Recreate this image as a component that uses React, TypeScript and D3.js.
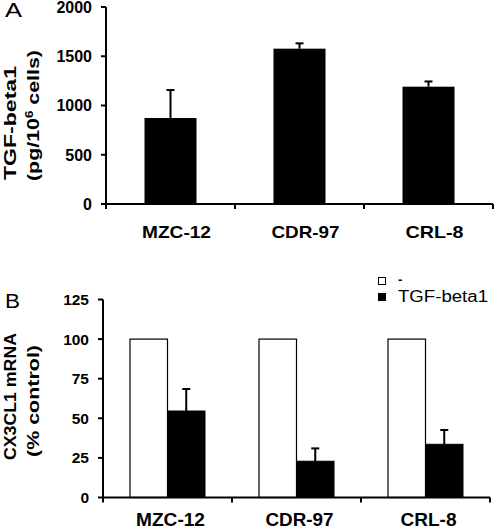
import React from "react";
import * as d3 from "d3";

const categories = ["MZC-12", "CDR-97", "CRL-8"];
const tgfValues = [873, 1577, 1191];
const tgfErrors = [284, 54, 53];
const controlValues = [100, 100, 100];
const treatedValues = [54.6, 22.9, 33.6];
const treatedErrors = [13.9, 8.1, 9.0];
const yTicksA = [0, 500, 1000, 1500, 2000];
const yTicksB = [0, 25, 50, 75, 100, 125];
const seriesB = ["-", "TGF-beta1"];
const labelLenA = [69, 68, 58];
const labelLenB = [69, 68, 56];

const FONT = "'Liberation Sans', Arial, Helvetica, sans-serif";

export default function App() {
  const xA = d3.scaleBand<string>().domain(categories).range([106, 493]).padding(0);
  const yA = d3.scaleLinear().domain([0, 2000]).range([204, 7]);
  const barWA = 52;

  const xB = d3.scaleBand<string>().domain(categories).range([103, 490]).padding(0);
  const yB = d3.scaleLinear().domain([0, 125]).range([497.5, 299.5]);
  const pairW = 75;
  const sub = d3.scaleBand<string>().domain(seriesB).range([0, pairW]).padding(0);

  const capW = 8;

  const yLabel = (x: number, y: number, text: string, len: number, size = 16) => (
    <text
      transform={`translate(${x},${y}) rotate(-90)`}
      fontFamily={FONT}
      fontWeight="bold"
      fontSize={size}
      textLength={len}
      lengthAdjust="spacingAndGlyphs"
    >
      {text}
    </text>
  );

  return (
    <svg width={500} height={529} style={{ position: "absolute", left: 0, top: 0 }}>
      <rect width={500} height={529} fill="#fff" />
      <text x={5} y={17} fontFamily={FONT} fontSize={20} textLength={17} lengthAdjust="spacingAndGlyphs">A</text>
      <text x={5} y={308} fontFamily={FONT} fontSize={20} textLength={15} lengthAdjust="spacingAndGlyphs">B</text>

      {/* ===== Panel A ===== */}
      {yLabel(16, 180, "TGF-beta1", 114)}
      <text
        transform={`translate(39,181) rotate(-90)`}
        fontFamily={FONT}
        fontWeight="bold"
        fontSize={16}
        textLength={131}
        lengthAdjust="spacingAndGlyphs"
      >
        (pg/10<tspan dy={-6} fontSize={10}>6</tspan><tspan dy={6}> cells)</tspan>
      </text>

      {categories.map((c, i) => {
        const cx = xA(c)! + xA.bandwidth() / 2;
        return (
          <g key={c}>
            <rect x={cx - barWA / 2} y={yA(tgfValues[i])} width={barWA} height={yA(0) - yA(tgfValues[i])} fill="#000" />
            <line x1={cx} x2={cx} y1={yA(tgfValues[i])} y2={yA(tgfValues[i] + tgfErrors[i])} stroke="#000" strokeWidth={2} />
            <line x1={cx - capW / 2} x2={cx + capW / 2} y1={yA(tgfValues[i] + tgfErrors[i])} y2={yA(tgfValues[i] + tgfErrors[i])} stroke="#000" strokeWidth={2} />
          </g>
        );
      })}
      <line x1={106} x2={106} y1={yA(2000)} y2={yA(0) + 5} stroke="#000" strokeWidth={2} />
      <line x1={106} x2={493} y1={yA(0)} y2={yA(0)} stroke="#000" strokeWidth={2} />
      {yTicksA.map((t) => (
        <g key={t}>
          <line x1={101} x2={106} y1={yA(t)} y2={yA(t)} stroke="#000" strokeWidth={2} />
          <text x={92} y={yA(t)} dy="0.36em" textAnchor="end" fontFamily={FONT} fontWeight="bold" fontSize={16}>
            {t}
          </text>
        </g>
      ))}
      {categories.map((c) => (
        <line key={c} x1={xA(c)! + xA.bandwidth()} x2={xA(c)! + xA.bandwidth()} y1={yA(0)} y2={yA(0) + 5} stroke="#000" strokeWidth={2} />
      ))}
      {categories.map((c, i) => (
        <text
          key={c}
          x={xA(c)! + xA.bandwidth() / 2 + 6}
          y={238}
          textAnchor="middle"
          fontFamily={FONT}
          fontWeight="bold"
          fontSize={17}
          textLength={labelLenA[i]}
          lengthAdjust="spacingAndGlyphs"
        >
          {c}
        </text>
      ))}

      {/* ===== Panel B ===== */}
      {yLabel(16, 460, "CX3CL1 mRNA", 127)}
      {yLabel(39, 457, "(% control)", 112)}

      {categories.map((c, i) => {
        const x0 = xB(c)! + xB.bandwidth() / 2 - pairW / 2;
        const bw = sub.bandwidth();
        const xc = x0 + sub("-")!;
        const xt = x0 + sub("TGF-beta1")!;
        const ecx = xt + bw / 2;
        return (
          <g key={c}>
            <rect x={xc} y={yB(controlValues[i])} width={bw} height={yB(0) - yB(controlValues[i])} fill="#fff" stroke="#000" strokeWidth={1.2} />
            <rect x={xt} y={yB(treatedValues[i])} width={bw} height={yB(0) - yB(treatedValues[i])} fill="#000" stroke="#000" strokeWidth={1} />
            <line x1={ecx} x2={ecx} y1={yB(treatedValues[i])} y2={yB(treatedValues[i] + treatedErrors[i])} stroke="#000" strokeWidth={2} />
            <line x1={ecx - capW / 2} x2={ecx + capW / 2} y1={yB(treatedValues[i] + treatedErrors[i])} y2={yB(treatedValues[i] + treatedErrors[i])} stroke="#000" strokeWidth={2} />
          </g>
        );
      })}
      <line x1={103} x2={103} y1={yB(125)} y2={yB(0) + 5} stroke="#000" strokeWidth={2} />
      <line x1={103} x2={490} y1={yB(0)} y2={yB(0)} stroke="#000" strokeWidth={2} />
      {yTicksB.map((t) => (
        <g key={t}>
          <line x1={98} x2={103} y1={yB(t)} y2={yB(t)} stroke="#000" strokeWidth={2} />
          <text x={89} y={yB(t)} dy="0.36em" textAnchor="end" fontFamily={FONT} fontWeight="bold" fontSize={15.5}>
            {t}
          </text>
        </g>
      ))}
      {categories.map((c) => (
        <line key={c} x1={xB(c)! + xB.bandwidth()} x2={xB(c)! + xB.bandwidth()} y1={yB(0)} y2={yB(0) + 5} stroke="#000" strokeWidth={2} />
      ))}
      {categories.map((c, i) => (
        <text
          key={c}
          x={xB(c)! + xB.bandwidth() / 2 + 3}
          y={526}
          textAnchor="middle"
          fontFamily={FONT}
          fontWeight="bold"
          fontSize={18}
          textLength={labelLenB[i]}
          lengthAdjust="spacingAndGlyphs"
        >
          {c}
        </text>
      ))}

      <rect x={378.5} y={277.5} width={7} height={7} fill="#fff" stroke="#000" strokeWidth={1} />
      <text x={398} y={284} fontFamily={FONT} fontSize={13} fontWeight="bold">-</text>
      <rect x={378} y={293} width={8} height={8} fill="#000" />
      <text x={398} y={302} fontFamily={FONT} fontSize={16} textLength={90} lengthAdjust="spacingAndGlyphs">TGF-beta1</text>
    </svg>
  );
}
